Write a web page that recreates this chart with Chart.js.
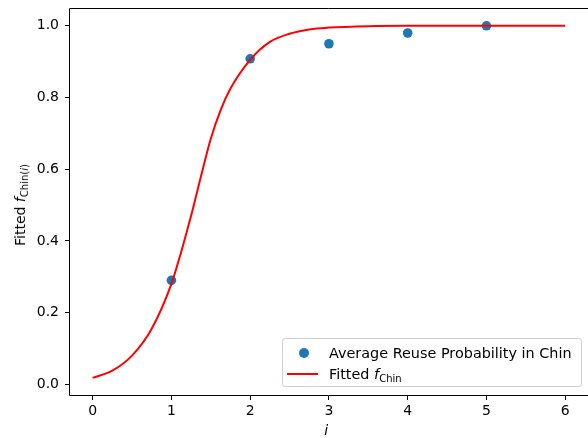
<!DOCTYPE html>
<html>
<head>
<meta charset="utf-8">
<script src="https://cdn.jsdelivr.net/npm/chart.js@4"></script>
<style>
  body { margin: 0; background: #fff; }
  #wrap { position: relative; width: 588px; height: 438px; overflow: hidden; font-family: 'DejaVu Sans', sans-serif; color: #000; }
  #chart { position: absolute; left: 0; top: 0; }
  .legend {
    position: absolute; left: 282px; top: 338px; width: 300px; height: 49px;
    border: 1px solid #d0d0d0; border-radius: 3px; background: rgba(255,255,255,0.8);
    font-size: 14.4px; box-sizing: border-box;
  }
  .legend .row { position: absolute; left: 0; height: 20px; line-height: 20px; white-space: nowrap; }
  .legend .dot { position: absolute; left: 16px; top: 5px; width: 10px; height: 10px; border-radius: 50%; background: #1f77b4; }
  .legend .line { position: absolute; left: 4px; top: 9px; width: 31px; height: 2px; background: red; }
  .legend .txt { position: absolute; left: 46px; top: 0; }
  sub { font-size: 10px; vertical-align: -3px; line-height: 0; }
  .ytitle {
    position: absolute; left: 20px; top: 205px; font-size: 14px; white-space: nowrap;
    transform: translate(-50%, -50%) rotate(-90deg);
  }
</style>
</head>
<body>
<div id="wrap">
  <canvas id="chart" width="588" height="438"></canvas>
  <div class="ytitle">Fitted <i>f</i><sub>Chin(<i>i</i>)</sub></div>
  <div class="legend">
    <div class="row" style="top:4px"><span class="dot"></span><span class="txt">Average Reuse Probability in Chin</span></div>
    <div class="row" style="top:25px"><span class="line"></span><span class="txt">Fitted <i>f</i><sub>Chin</sub></span></div>
  </div>
</div>
<script>
// observed points
const chinX = [1, 2, 3, 4, 5];
const chinProb = [0.29, 0.908, 0.95, 0.98, 1.0];

// fitted curve
const fitX = [0, 0.25, 0.5, 0.75, 1, 1.125, 1.25, 1.375, 1.5, 1.625, 1.75, 2, 2.25, 2.5, 2.75, 3, 3.5, 4, 4.5, 5, 5.5, 6];
const fitY = [0.018, 0.038, 0.08, 0.155, 0.28, 0.37, 0.47, 0.58, 0.685, 0.765, 0.825, 0.905, 0.955, 0.978, 0.99, 0.995, 0.999, 1.0, 1.0, 1.0, 1.0, 1.0];

const xTicks = [0, 1, 2, 3, 4, 5, 6];
const yTicks = [0.0, 0.2, 0.4, 0.6, 0.8, 1.0];

const tickFont = { family: 'DejaVu Sans', size: 14 };

// spines: left, top, bottom (the right one is cut off in the original)
const frame = {
    id: 'frame',
    afterDraw(chart) {
        const { ctx, chartArea: a, width } = chart;
        ctx.save();
        ctx.strokeStyle = '#000';
        ctx.lineWidth = 1;
        ctx.beginPath();
        ctx.moveTo(width, a.top + 0.5);
        ctx.lineTo(a.left + 0.5, a.top + 0.5);
        ctx.lineTo(a.left + 0.5, a.bottom - 0.5);
        ctx.lineTo(width, a.bottom - 0.5);
        ctx.stroke();
        ctx.restore();
    }
};

new Chart(document.getElementById('chart'), {
    type: 'scatter',
    data: {
        datasets: [
            {
                type: 'line',
                label: 'Fitted f_Chin',
                data: fitX.map((x, i) => ({ x: x, y: fitY[i] })),
                borderColor: 'red',
                borderWidth: 2,
                pointRadius: 0,
                pointHoverRadius: 0,
                cubicInterpolationMode: 'monotone',
                fill: false,
                clip: false,
                order: 0
            },
            {
                label: 'Average Reuse Probability in Chin',
                data: chinX.map((x, i) => ({ x: x, y: chinProb[i] })),
                backgroundColor: '#1f77b4',
                borderWidth: 0,
                pointRadius: 4.8,
                pointHoverRadius: 4.8,
                order: 1
            }
        ]
    },
    options: {
        responsive: false,
        animation: false,
        devicePixelRatio: 1,
        layout: { padding: { top: 8, right: 0, left: 0, bottom: 0 } },
        plugins: { legend: { display: false }, tooltip: { enabled: false } },
        scales: {
            x: {
                type: 'linear',
                // plot area stops ~5px short of the canvas edge (point overflow), so the
                // upper limit is chosen to keep the tick spacing of the original
                min: -0.3, max: 6.228,
                afterBuildTicks: s => { s.ticks = xTicks.map(v => ({ value: v })); },
                afterFit: s => { s.height = 42; s.paddingLeft = 0; s.paddingRight = 0; },
                ticks: { color: '#000', font: tickFont, padding: 3, maxRotation: 0 },
                grid: { drawOnChartArea: false, tickLength: 4, tickColor: '#000' },
                border: { display: false },
                title: { display: true, text: 'i', color: '#000', padding: { top: 0, bottom: -2 },
                         font: { family: 'DejaVu Sans', size: 14, style: 'italic' } }
            },
            y: {
                min: -0.0326, max: 1.0497,
                afterBuildTicks: s => { s.ticks = yTicks.map(v => ({ value: v })); },
                afterFit: s => { s.width = 69; s.paddingTop = 0; s.paddingBottom = 0; },
                ticks: { color: '#000', font: tickFont, padding: 6, callback: v => v.toFixed(1) },
                grid: { drawOnChartArea: false, tickLength: 4, tickColor: '#000' },
                border: { display: false }
            }
        }
    },
    plugins: [frame]
});
</script>
</body>
</html>
